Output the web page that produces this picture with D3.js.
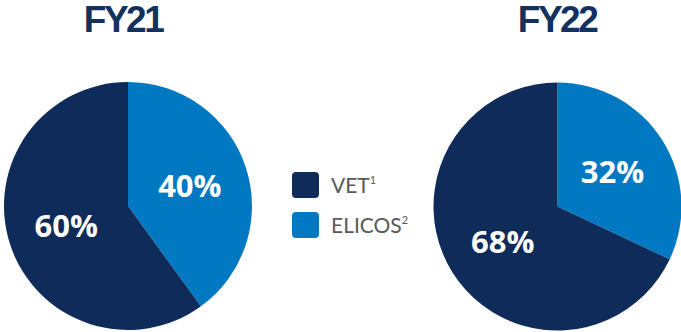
<!DOCTYPE html>
<html>
<head>
<meta charset="utf-8">
<script src="https://cdn.jsdelivr.net/npm/d3@7"></script>
<style>
  html, body { margin: 0; padding: 0; background: #fff; }
  svg { display: block; }
</style>
</head>
<body>
<svg id="chart" width="681" height="332"></svg>
<script>
// Enrolment mix by program type, per financial year
const years = ["FY21", "FY22"];
const categories = ["ELICOS", "VET"];
const footnotes = ["2", "1"];
const fy21Values = [40, 60];
const fy22Values = [32, 68];
const seriesByYear = [fy21Values, fy22Values];
const legendOrder = ["VET", "ELICOS"];

const colors = d3.scaleOrdinal()
  .domain(categories)
  .range(["#0079C2", "#0F2B5A"]);

const svg = d3.select("#chart");

const radius = 124;
const centers = [[128, 206], [557.5, 206.5]];
const titleX = [123, 557];

const pie = d3.pie().sort(null).value(d => d.value);
const arc = d3.arc().innerRadius(0).outerRadius(radius);
const labelArc = d3.arc().innerRadius(65).outerRadius(65);

years.forEach((year, i) => {
  const data = categories.map((c, k) => ({ cat: c, value: seriesByYear[i][k] }));
  const g = svg.append("g").attr("transform", `translate(${centers[i][0]},${centers[i][1]})`);

  g.selectAll("path.slice")
    .data(pie(data))
    .join("path")
    .attr("class", "slice")
    .attr("d", arc)
    .attr("fill", d => colors(d.data.cat));

  g.selectAll("text.value")
    .data(pie(data))
    .join("text")
    .attr("class", "value")
    .attr("transform", d => `translate(${labelArc.centroid(d)})`)
    .attr("text-anchor", "middle")
    .attr("dy", "0.36em")
    .attr("fill", "#fff")
    .style("font-family", "'Open Sans', sans-serif")
    .style("font-weight", 700)
    .style("font-size", "31px")
    .text(d => d.data.value + "%");

  svg.append("text")
    .attr("x", titleX[i])
    .attr("y", 32)
    .attr("text-anchor", "middle")
    .attr("fill", "#13315F")
    .style("font-family", "'Liberation Sans', Arial, Helvetica, sans-serif")
    .style("font-weight", 700)
    .style("font-size", "37px")
    .style("letter-spacing", "-2.5px")
    .text(year);
});

// Legend
const legend = svg.append("g").attr("transform", "translate(292,172)");
const items = legend.selectAll("g.item")
  .data(legendOrder)
  .join("g")
  .attr("class", "item")
  .attr("transform", (d, i) => `translate(0,${i * 40})`);

items.append("rect")
  .attr("width", 27)
  .attr("height", 26)
  .attr("rx", 4)
  .attr("fill", d => colors(d));

const labels = items.append("text")
  .attr("x", 39)
  .attr("y", 21)
  .attr("fill", "#595959")
  .style("font-family", "Lato, 'Open Sans', sans-serif")
  .style("font-size", "21px");

labels.append("tspan").text(d => d);
labels.append("tspan")
  .attr("dy", -9)
  .style("font-size", "11px")
  .text(d => footnotes[categories.indexOf(d)]);
</script>
</body>
</html>
